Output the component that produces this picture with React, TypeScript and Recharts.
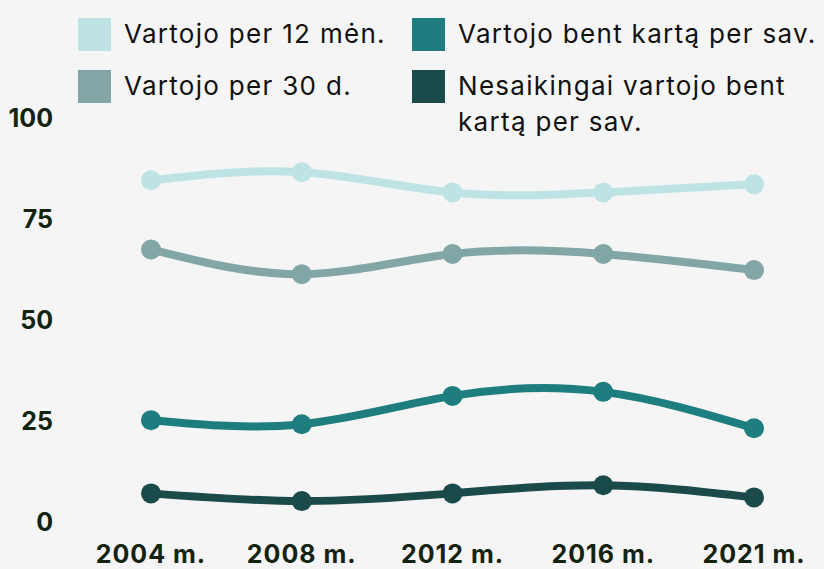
import React from "react";
import { LineChart, Line, XAxis, YAxis, Legend } from "recharts";

if (typeof document !== "undefined") {
  document.body.style.margin = "0";
}

const years = ["2004 m.", "2008 m.", "2012 m.", "2016 m.", "2021 m."];
const per12 = [84.6, 86.6, 81.6, 81.6, 83.6];
const per30 = [67.5, 61.4, 66.4, 66.4, 62.4];
const weekly = [25.3, 24.3, 31.3, 32.3, 23.3];
const binge = [7.2, 5.3, 7.2, 9.2, 6.2];
const yTicks = [0, 25, 50, 75, 100];

const seriesNames = [
  "Vartojo per 12 mėn.",
  "Vartojo per 30 d.",
  "Vartojo bent kartą per sav.",
  "Nesaikingai vartojo bent kartą per sav.",
];
const colors = ["#bde3e4", "#82a6a6", "#1e7e7f", "#1b4a4b"];

const data = years.map((y, i) => ({
  year: y,
  a: per12[i],
  b: per30[i],
  c: weekly[i],
  d: binge[i],
}));

const textFont = "Inter, 'Open Sans', sans-serif";
const xTickStyle = { fill: "#13230f", fontSize: 25, fontWeight: 700, fontFamily: textFont, letterSpacing: 1 };
const yTickStyle = { fill: "#13230f", fontSize: 25, fontWeight: 700, fontFamily: textFont };

const LegendBox = () => {
  const item = (idx: number, left: number, top: number, lines: string[]) => (
    <div key={idx} style={{ position: "absolute", left, top, display: "flex", alignItems: "flex-start" }}>
      <div style={{ width: 33, height: 33, background: colors[idx], marginRight: 13, flexShrink: 0 }} />
      <div style={{ fontFamily: textFont, fontSize: 26, letterSpacing: 1.3, color: "#111", lineHeight: "36px", marginTop: -2, whiteSpace: "nowrap" }}>
        {lines.map((l, k) => (
          <div key={k}>{l}</div>
        ))}
      </div>
    </div>
  );
  return (
    <div style={{ position: "relative", width: 824, height: 0 }}>
      {item(0, 78, 18, [seriesNames[0]])}
      {item(1, 78, 70, [seriesNames[1]])}
      {item(2, 412, 18, [seriesNames[2]])}
      {item(3, 412, 70, ["Nesaikingai vartojo bent", "kartą per sav."])}
    </div>
  );
};

export default function App() {
  const keys = ["a", "b", "c", "d"];
  return (
    <div style={{ width: 824, height: 569, background: "#f5f5f5", position: "relative" }}>
      <LineChart
        width={824}
        height={569}
        data={data}
        margin={{ top: 118, right: 70, left: 0, bottom: 0 }}
      >
        <XAxis
          dataKey="year"
          axisLine={false}
          tickLine={false}
          height={46.5}
          tickMargin={17}
          tick={xTickStyle}
          interval={0}
        />
        <YAxis
          domain={[0, 100]}
          ticks={yTicks}
          axisLine={false}
          tickLine={false}
          width={151}
          tickMargin={92}
          tick={yTickStyle}
        />
        <Legend
          verticalAlign="top"
          content={() => <LegendBox />}
          wrapperStyle={{ position: "absolute", left: 0, top: 0, width: 824, height: 0, overflow: "visible" }}
        />
        {keys.map((k, i) => (
          <Line
            key={k}
            type="natural"
            dataKey={k}
            name={seriesNames[i]}
            stroke={colors[i]}
            strokeWidth={8}
            dot={{ r: 10, fill: colors[i], stroke: "none" }}
            activeDot={false}
            isAnimationActive={false}
          />
        ))}
      </LineChart>
    </div>
  );
}
